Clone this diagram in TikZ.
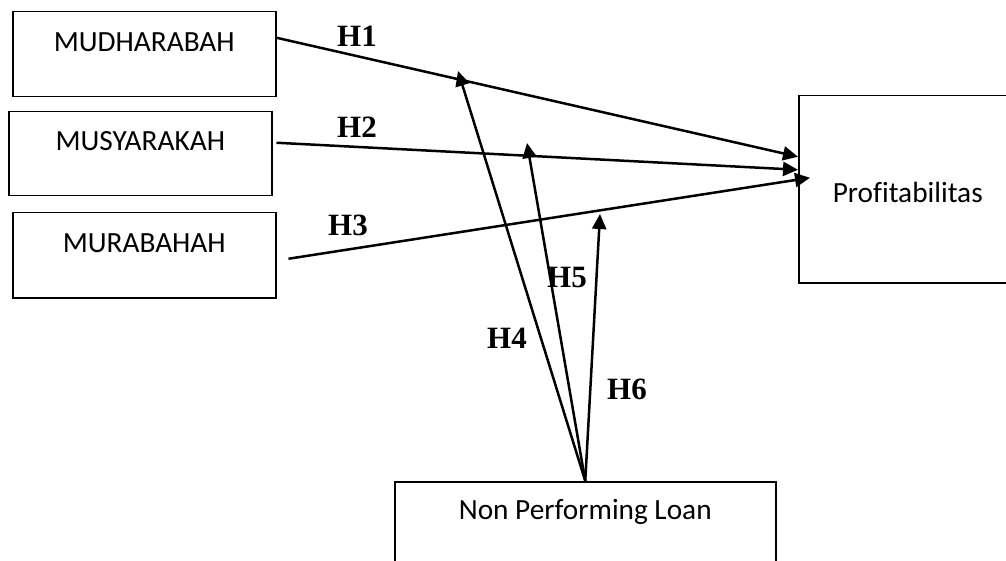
\documentclass[tikz,border=0pt]{standalone}
\usepackage{fontspec}
\setmainfont{Carlito}[Ligatures=NoCommon]
\newfontfamily\hfont{Liberation Serif}
\usetikzlibrary{arrows.meta}
\tikzset{
	pole/.style={draw, line width=1.5pt, inner sep=0pt, anchor=north west,
		font=\fontsize{29.3}{31}\selectfont},
	strz/.style={line width=2.5pt, -{Triangle[length=15pt,width=14pt]}},
	hip/.style={font=\hfont\bfseries\fontsize{31}{33}\selectfont}
}

\begin{document}
\begin{tikzpicture}[x=1pt,y=-1pt]
	\useasboundingbox (0,0) rectangle (1006,561);
	\clip (0,0) rectangle (1006,561);

	%prostokaty
	\node[pole, minimum width=263pt, text height=40pt, text depth=45pt] (mudh) at (12,11) {MUDHARABAH};
	\node[pole, minimum width=263pt, text height=39pt, text depth=45pt] (musy) at (8,111) {MUSYARAKAH};
	\node[pole, minimum width=263pt, text height=40pt, text depth=45pt] (mura) at (12,212) {MURABAHAH};
	\node[pole, minimum width=218pt, text height=106.7pt, text depth=80.3pt] (prof) at (798,95) {Profitabilitas};
	\node[pole, minimum width=381pt, text height=38pt, text depth=60pt] (npl) at (394,481) {Non Performing Loan};

	%strzalki
	\draw[strz] ([yshift=16.5pt]mudh.east) -- ([yshift=32.5pt]prof.west);
	\draw[strz] ([xshift=4pt,yshift=11pt]musy.east) -- ([yshift=19.5pt]prof.west);
	\draw[strz] ([xshift=12pt,yshift=-3.5pt]mura.east) -- ([xshift=12pt,yshift=11.5pt]prof.west);

	\coordinate (k4) at (458,71);
	\coordinate (k5) at (527,143);
	\coordinate (k6) at (600,214);
	\foreach \k in {k4,k5,k6}
		\draw[strz] (npl.north) -- (\k);

	%etykiety
	\node[hip] (h1) at (357,36) {H1};
	\node[hip] (h2) at (357,127) {H2};
	\node[hip] (h3) at (348,225) {H3};
	\node[hip] (h4) at (507,338) {H4};
	\node[hip] (h5) at (567,278) {H5};
	\node[hip] (h6) at (627,389) {H6};
\end{tikzpicture}
\end{document}
